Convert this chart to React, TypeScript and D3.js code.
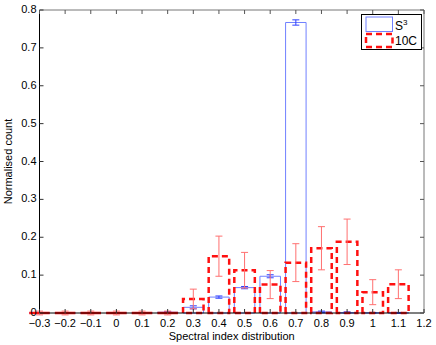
import React from "react";
import * as d3 from "d3";

const BIN_CENTERS = [-0.3, -0.2, -0.1, 0, 0.1, 0.2, 0.3, 0.4, 0.5, 0.6, 0.7, 0.8, 0.9, 1.0, 1.1];
const S3_VALUES = [0, 0, 0, 0, 0, 0.002, 0.015, 0.042, 0.067, 0.097, 0.767, 0.003, 0.001, 0.0005, 0.0005];
const S3_ERRORS = [0, 0, 0, 0, 0, 0.002, 0.004, 0.003, 0.003, 0.004, 0.007, 0.002, 0.002, 0.001, 0.001];
const C10_VALUES = [0, 0, 0, 0, 0, 0, 0.037, 0.15, 0.113, 0.075, 0.133, 0.171, 0.188, 0.055, 0.076];
const C10_ERRORS = [0.005, 0.005, 0.005, 0.005, 0.005, 0.005, 0.026, 0.053, 0.047, 0.037, 0.05, 0.057, 0.06, 0.033, 0.038];
const X_TICKS = [-0.3, -0.2, -0.1, 0, 0.1, 0.2, 0.3, 0.4, 0.5, 0.6, 0.7, 0.8, 0.9, 1, 1.1, 1.2];
const Y_TICKS = [0, 0.1, 0.2, 0.3, 0.4, 0.5, 0.6, 0.7, 0.8];

const BAR_WIDTH = 0.08;
const FONT = "'Liberation Sans', Arial, sans-serif";
const BLUE = "#7080ff";
const BLUE_ERR = "#3040ff";
const RED = "#ff1010";
const RED_ERR = "#ff7070";

const fmt = (v: number) => {
  const s = d3.format("")(+v.toFixed(1));
  return s.replace("-", "\u2212");
};

const App = () => {
  const width = 436;
  const height = 345;
  const x = d3.scaleLinear().domain([-0.3, 1.2]).range([39.5, 424]);
  const y = d3.scaleLinear().domain([0, 0.8]).range([313, 10]);
  const [x0, x1] = x.range();
  const [y0, y1] = y.range();

  const barPath = (c: number, v: number) => {
    const l = x(c - BAR_WIDTH / 2);
    const r = x(c + BAR_WIDTH / 2);
    const t = y(v);
    return `M${l},${y0}L${l},${t}L${r},${t}L${r},${y0}Z`;
  };

  const errBar = (c: number, v: number, e: number, color: string, key: string) => {
    const cx = x(c);
    const cap = 3.5;
    return (
      <g key={key} stroke={color} strokeWidth={1}>
        <line x1={cx} x2={cx} y1={y(v - e)} y2={y(v + e)} />
        <line x1={cx - cap} x2={cx + cap} y1={y(v + e)} y2={y(v + e)} />
        <line x1={cx - cap} x2={cx + cap} y1={y(v - e)} y2={y(v - e)} />
      </g>
    );
  };

  return (
    <svg width={width} height={height} style={{ position: "absolute", left: 0, top: 0 }} fontFamily={FONT}>
      <rect width={width} height={height} fill="#fff" />
      {/* S3 bars */}
      {BIN_CENTERS.map((c, i) => (
        <path key={"b" + i} d={barPath(c, S3_VALUES[i])} fill="none" stroke={BLUE} strokeWidth={1} />
      ))}
      {BIN_CENTERS.map((c, i) => errBar(c, S3_VALUES[i], S3_ERRORS[i], BLUE_ERR, "be" + i))}
      {/* 10C bars */}
      {BIN_CENTERS.map((c, i) => (
        <path key={"r" + i} d={barPath(c, C10_VALUES[i])} fill="none" stroke={RED}
          strokeWidth={2.5} strokeDasharray="6 4" />
      ))}
      {BIN_CENTERS.map((c, i) => errBar(c, C10_VALUES[i], C10_ERRORS[i], RED_ERR, "re" + i))}

      {/* axes box */}
      <line x1={x0} x2={x1} y1={y1} y2={y1} stroke="#777" />
      <line x1={x1} x2={x1} y1={y1} y2={y0} stroke="#777" />
      <line x1={x0} x2={x0} y1={y1} y2={y0} stroke="#000" />
      <line x1={x0} x2={x1} y1={y0} y2={y0} stroke="#000" />

      {X_TICKS.map((t) => (
        <g key={"xt" + t}>
          <line x1={x(t)} x2={x(t)} y1={y0} y2={y0 - 4} stroke="#333" />
          <line x1={x(t)} x2={x(t)} y1={y1} y2={y1 + 4} stroke="#555" />
          <text x={x(t)} y={327} fontSize={11} textAnchor="middle">{fmt(t)}</text>
        </g>
      ))}
      {Y_TICKS.map((t) => (
        <g key={"yt" + t}>
          <line x1={x0} x2={x0 + 4} y1={y(t)} y2={y(t)} stroke="#333" />
          <line x1={x1} x2={x1 - 4} y1={y(t)} y2={y(t)} stroke="#555" />
          <text x={x0 - 3} y={y(t) + 3} fontSize={11} textAnchor="end">{fmt(t)}</text>
        </g>
      ))}

      <text x={(x0 + x1) / 2} y={340} fontSize={11} textAnchor="middle">Spectral index distribution</text>
      <text transform={`translate(12,${(y0 + y1) / 2}) rotate(-90)`} fontSize={11} textAnchor="middle">Normalised count</text>

      {/* legend */}
      <g>
        <rect x={361.5} y={14.5} width={60} height={35} fill="#fff" stroke="#000" />
        <rect x={366} y={17} width={26.5} height={14.5} fill="none" stroke={BLUE} />
        <rect x={366} y={34} width={26.5} height={13} fill="none" stroke={RED} strokeWidth={2.5} strokeDasharray="6 4" />
        <text x={395} y={30} fontSize={12}>S<tspan dy={-5} fontSize={8}>3</tspan></text>
        <text x={395} y={45} fontSize={12}>10C</text>
      </g>
    </svg>
  );
};

export default App;
